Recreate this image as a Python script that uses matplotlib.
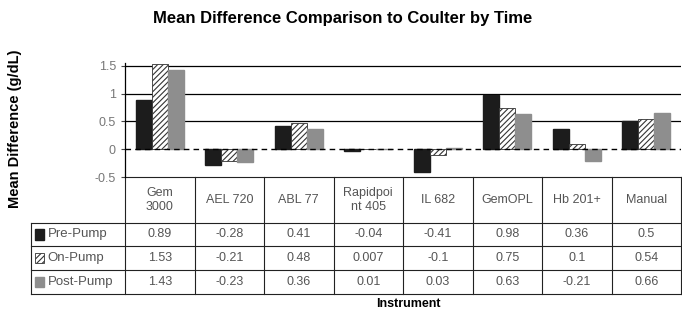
import matplotlib
matplotlib.use('Agg')
import matplotlib.pyplot as plt
import matplotlib.patches as mpl_patches
import numpy as np

plt.rcParams['font.family'] = ['Liberation Sans', 'DejaVu Sans']
plt.rcParams['hatch.linewidth'] = 0.8

instruments = ['Gem\n3000', 'AEL 720', 'ABL 77', 'Rapidpoi\nnt 405',
               'IL 682', 'GemOPL', 'Hb 201+', 'Manual']
series_names = ['Pre-Pump', 'On-Pump', 'Post-Pump']
pre_pump = [0.89, -0.28, 0.41, -0.04, -0.41, 0.98, 0.36, 0.5]
on_pump = [1.53, -0.21, 0.48, 0.007, -0.1, 0.75, 0.1, 0.54]
post_pump = [1.43, -0.23, 0.36, 0.01, 0.03, 0.63, -0.21, 0.66]
value_text = [
    ['0.89', '-0.28', '0.41', '-0.04', '-0.41', '0.98', '0.36', '0.5'],
    ['1.53', '-0.21', '0.48', '0.007', '-0.1', '0.75', '0.1', '0.54'],
    ['1.43', '-0.23', '0.36', '0.01', '0.03', '0.63', '-0.21', '0.66'],
]
yticks = [-0.5, 0, 0.5, 1, 1.5]
ytick_labels = ['-0.5', '0', '0.5', '1', '1.5']

W, H = 682, 316
fig = plt.figure(figsize=(W / 100, H / 100), dpi=100)
ax = fig.add_axes([125 / W, 1 - 177 / H, 556 / W, 113.8 / H])

x = np.arange(len(instruments))
bw = 0.23
styles = [
    dict(facecolor='#1c1c1c', edgecolor='#1c1c1c'),
    dict(facecolor='white', edgecolor='#333333', hatch='//////', linewidth=0.6),
    dict(facecolor='#8e8e8e', edgecolor='#8e8e8e'),
]
for i, vals in enumerate([pre_pump, on_pump, post_pump]):
    ax.bar(x + (i - 1) * bw, vals, bw, zorder=3, **styles[i])

ax.set_xlim(-0.5, len(instruments) - 0.5)
ax.set_ylim(-0.5, 1.55)
for v in [0.5, 1, 1.5]:
    ax.axhline(v, color='black', lw=0.9, zorder=1)
ax.axhline(0, color='black', lw=1.0, ls=(0, (4, 3)), zorder=4)

ax.set_yticks(yticks)
ax.set_yticklabels(ytick_labels, color='#777777', fontsize=9)
ax.tick_params(axis='y', length=3, width=0.8, color='#444444')
ax.set_xticks([])
for s in ['top', 'right', 'bottom']:
    ax.spines[s].set_visible(False)
ax.spines['left'].set_linewidth(0.9)

# data table under the chart (axes fraction for y)
rows_y = [0.0, -0.404, -0.606, -0.817, -1.028]
lab_left = -0.5 - (125 - 31) / 69.5
tr = ax.get_xaxis_transform()
line_kw = dict(transform=tr, color='#222222', lw=0.8, clip_on=False)
right = len(instruments) - 0.5
ax.plot([-0.5, right], [rows_y[0]] * 2, **line_kw)
for yy in rows_y[1:]:
    ax.plot([lab_left, right], [yy] * 2, **line_kw)
ax.plot([lab_left, lab_left], [rows_y[1], rows_y[-1]], **line_kw)
for k in range(len(instruments) + 1):
    ax.plot([k - 0.5, k - 0.5], [rows_y[0], rows_y[-1]], **line_kw)

for k, name in enumerate(instruments):
    ax.text(k, (rows_y[0] + rows_y[1]) / 2, name, transform=tr,
            ha='center', va='center', fontsize=9, color='#555555',
            linespacing=1.3)
for r in range(3):
    yc = (rows_y[r + 1] + rows_y[r + 2]) / 2
    for k in range(len(instruments)):
        ax.text(k, yc, value_text[r][k], transform=tr, ha='center',
                va='center', fontsize=9, color='#555555')
    sq = mpl_patches.Rectangle((lab_left + 0.06, yc - 0.045), 0.13, 0.09,
                               transform=tr, clip_on=False,
                               **styles[r])
    ax.add_patch(sq)
    ax.text(lab_left + 0.24, yc, series_names[r], transform=tr,
            ha='left', va='center', fontsize=9.5, color='#555555')

fig.text(343 / W, 1 - 18 / H, 'Mean Difference Comparison to Coulter by Time',
         ha='center', va='center', fontsize=12, fontweight='bold')
fig.text(15 / W, 1 - 129 / H, 'Mean Difference (g/dL)', rotation=90,
         ha='center', va='center', fontsize=10.5, fontweight='bold')
fig.text(408 / W, 1 - 304 / H, 'Instrument', ha='center', va='center',
         fontsize=9, fontweight='bold')

fig.savefig('out.png', dpi=100)
